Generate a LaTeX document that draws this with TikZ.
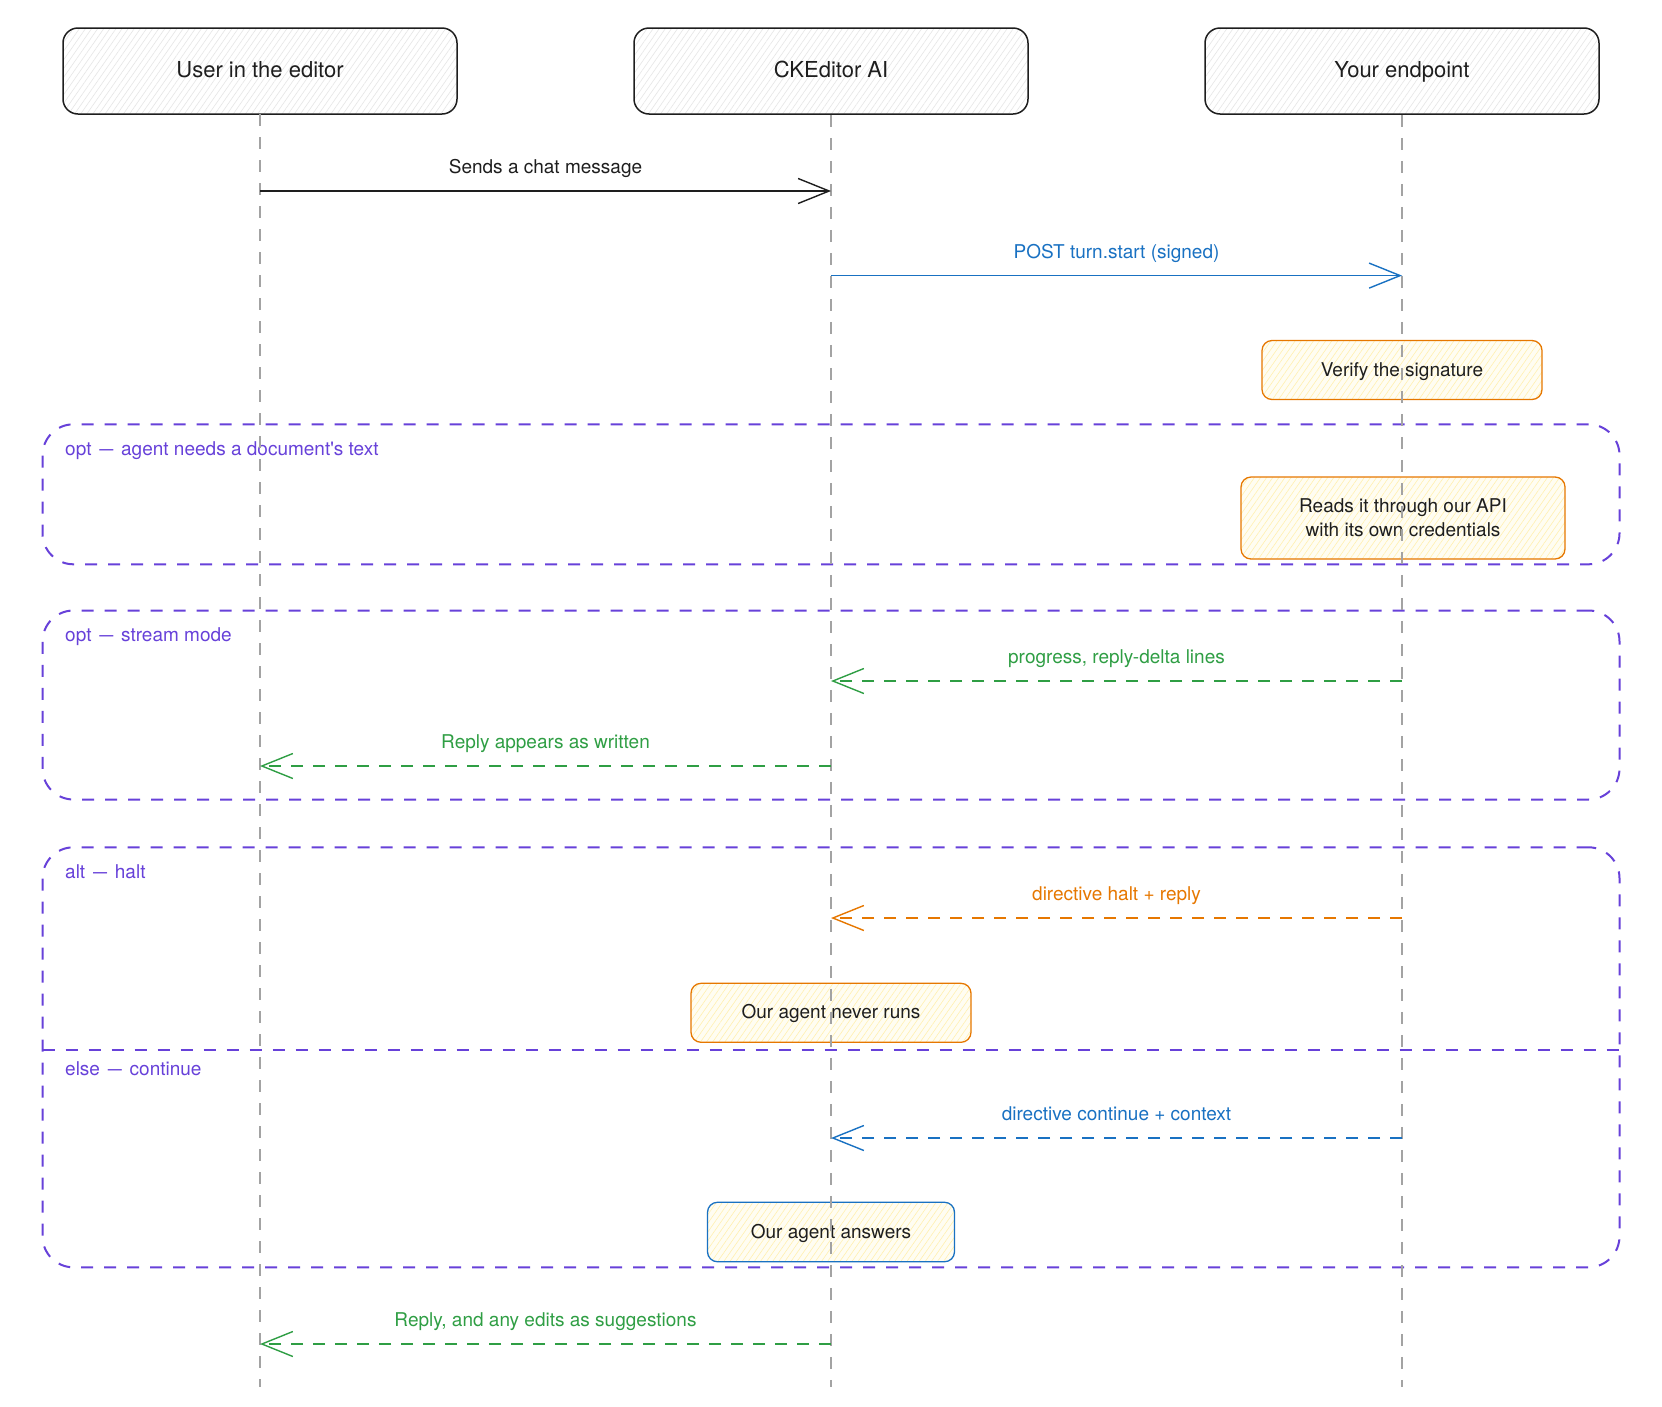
\documentclass[tikz,border=0pt]{standalone}
\usepackage{fontspec}
\usepackage{graphicx}
\setmainfont{TeX Gyre Heros}[Ligatures=TeXOff]
\usetikzlibrary{arrows.meta,patterns.meta}
\definecolor{ink}{HTML}{1E1E1E}
\definecolor{violetc}{HTML}{6741D9}
\definecolor{grn}{HTML}{2F9E44}
\definecolor{org}{HTML}{E67700}
\definecolor{blu}{HTML}{1971C2}
\definecolor{lifegray}{HTML}{A3A3A3}
\definecolor{notefill}{HTML}{FFFDF2}
\definecolor{notehatch}{HTML}{FFF0B0}
\definecolor{actorhatch}{HTML}{E6E6E6}
\newcommand{\fdash}{\hspace{7.8pt}\scalebox{0.74}[1]{—}\hspace{7.8pt}}
\begin{document}
\begin{tikzpicture}[x=1pt,y=-1pt,
  actor/.style={draw=ink, line width=1.5pt, rounded corners=15pt,
    minimum width=394pt, minimum height=86pt, inner sep=0pt,
    font=\fontsize{22}{26}\selectfont, text=ink, text height=13pt, text depth=0pt,
    preaction={fill=white}, pattern={Lines[angle=55,distance=5pt,line width=0.6pt]},
    pattern color=actorhatch},
  note/.style={draw=org, line width=1.3pt, rounded corners=10pt, inner sep=0pt,
    font=\fontsize{19}{24}\selectfont, text=ink,
    preaction={fill=notefill}, pattern={Lines[angle=55,distance=5pt,line width=0.6pt]},
    pattern color=notehatch},
  oneline/.style={text height=12pt, text depth=0pt},
  frame/.style={draw=violetc, line width=2pt, dash pattern=on 12pt off 11pt,
    rounded corners=31pt, inner sep=0pt},
  flbl/.style={font=\fontsize{19}{24}\selectfont, text=violetc, inner sep=0pt, anchor=base west},
  life/.style={draw=lifegray, line width=2pt, dash pattern=on 12pt off 11pt},
  msg/.style={line width=1.4pt, -{Straight Barb[length=31pt,width=25pt,line width=1.4pt]}},
  reply/.style={msg, dash pattern=on 12pt off 10pt},
  lbl/.style={font=\fontsize{19}{24}\selectfont, inner sep=0pt, midway, anchor=base, yshift=17.5pt}
]
\useasboundingbox (0,0) rectangle (1662,1406);

% actors
\node[actor] (user) at (260,71) {User in the editor};
\node[actor] (ck) at (831,71) {CKEditor AI};
\node[actor] (ep) at (1402,71) {Your endpoint};

% frames
\node[frame, minimum width=1577pt, minimum height=140pt] (opt1) at (831,494.3) {};
\node[frame, minimum width=1577pt, minimum height=189pt] (opt2) at (831,705) {};
\node[frame, minimum width=1577pt, minimum height=420pt] (alt) at (831,1057.3) {};
\coordinate (divL) at (42.5,1050);
\coordinate (divR) at (1619.5,1050);
\draw[draw=violetc, line width=2pt, dash pattern=on 12pt off 11pt] (divL) -- (divR);

\node[flbl] (opt1lbl) at (65,455.5) {opt\fdash agent needs a document's text};
\node[flbl] (opt2lbl) at (65,641.5) {opt\fdash stream mode};
\node[flbl] (altlbl) at (65,878.5) {alt\fdash halt};
\node[flbl] (elselbl) at (65,1075) {else\fdash continue};

% notes
\node[note, oneline, minimum width=280pt, minimum height=59pt] (verify) at (1402,370) {Verify the signature};
\node[note, align=center, minimum width=324pt, minimum height=82pt] (reads) at (1403,518) {Reads it through our API\\with its own credentials};
\node[note, oneline, minimum width=280pt, minimum height=59pt] (never) at (831,1012.8) {Our agent never runs};
\node[note, oneline, draw=blu, minimum width=247pt, minimum height=59.5pt] (answers) at (831,1232) {Our agent answers};

% lifelines
\coordinate (userEnd) at (260,1387);
\coordinate (ckEnd) at (831,1387);
\coordinate (epEnd) at (1402,1387);
\draw[life] (user.south) -- (userEnd);
\draw[life] (ck.south) -- (ckEnd);
\draw[life] (ep.south) -- (epEnd);

% messages
\coordinate (m1a) at (260,191);   \coordinate (m1b) at (831,191);
\coordinate (m2a) at (831,275.6); \coordinate (m2b) at (1402,275.6);
\coordinate (m3a) at (1402,681);  \coordinate (m3b) at (831,681);
\coordinate (m4a) at (831,766);   \coordinate (m4b) at (260,766);
\coordinate (m5a) at (1402,918);  \coordinate (m5b) at (831,918);
\coordinate (m6a) at (1402,1138); \coordinate (m6b) at (831,1138);
\coordinate (m7a) at (831,1344);  \coordinate (m7b) at (260,1344);

\draw[msg, draw=ink] (m1a) -- node[lbl, text=ink] {Sends a chat message} (m1b);
\draw[msg, draw=blu] (m2a) -- node[lbl, text=blu] {POST turn.start (signed)} (m2b);
\draw[reply, draw=grn] (m3a) -- node[lbl, text=grn] {progress, reply-delta lines} (m3b);
\draw[reply, draw=grn] (m4a) -- node[lbl, text=grn] {Reply appears as written} (m4b);
\draw[reply, draw=org] (m5a) -- node[lbl, text=org] {directive halt + reply} (m5b);
\draw[reply, draw=blu] (m6a) -- node[lbl, text=blu] {directive continue + context} (m6b);
\draw[reply, draw=grn] (m7a) -- node[lbl, text=grn] {Reply, and any edits as suggestions} (m7b);
\end{tikzpicture}
\end{document}
